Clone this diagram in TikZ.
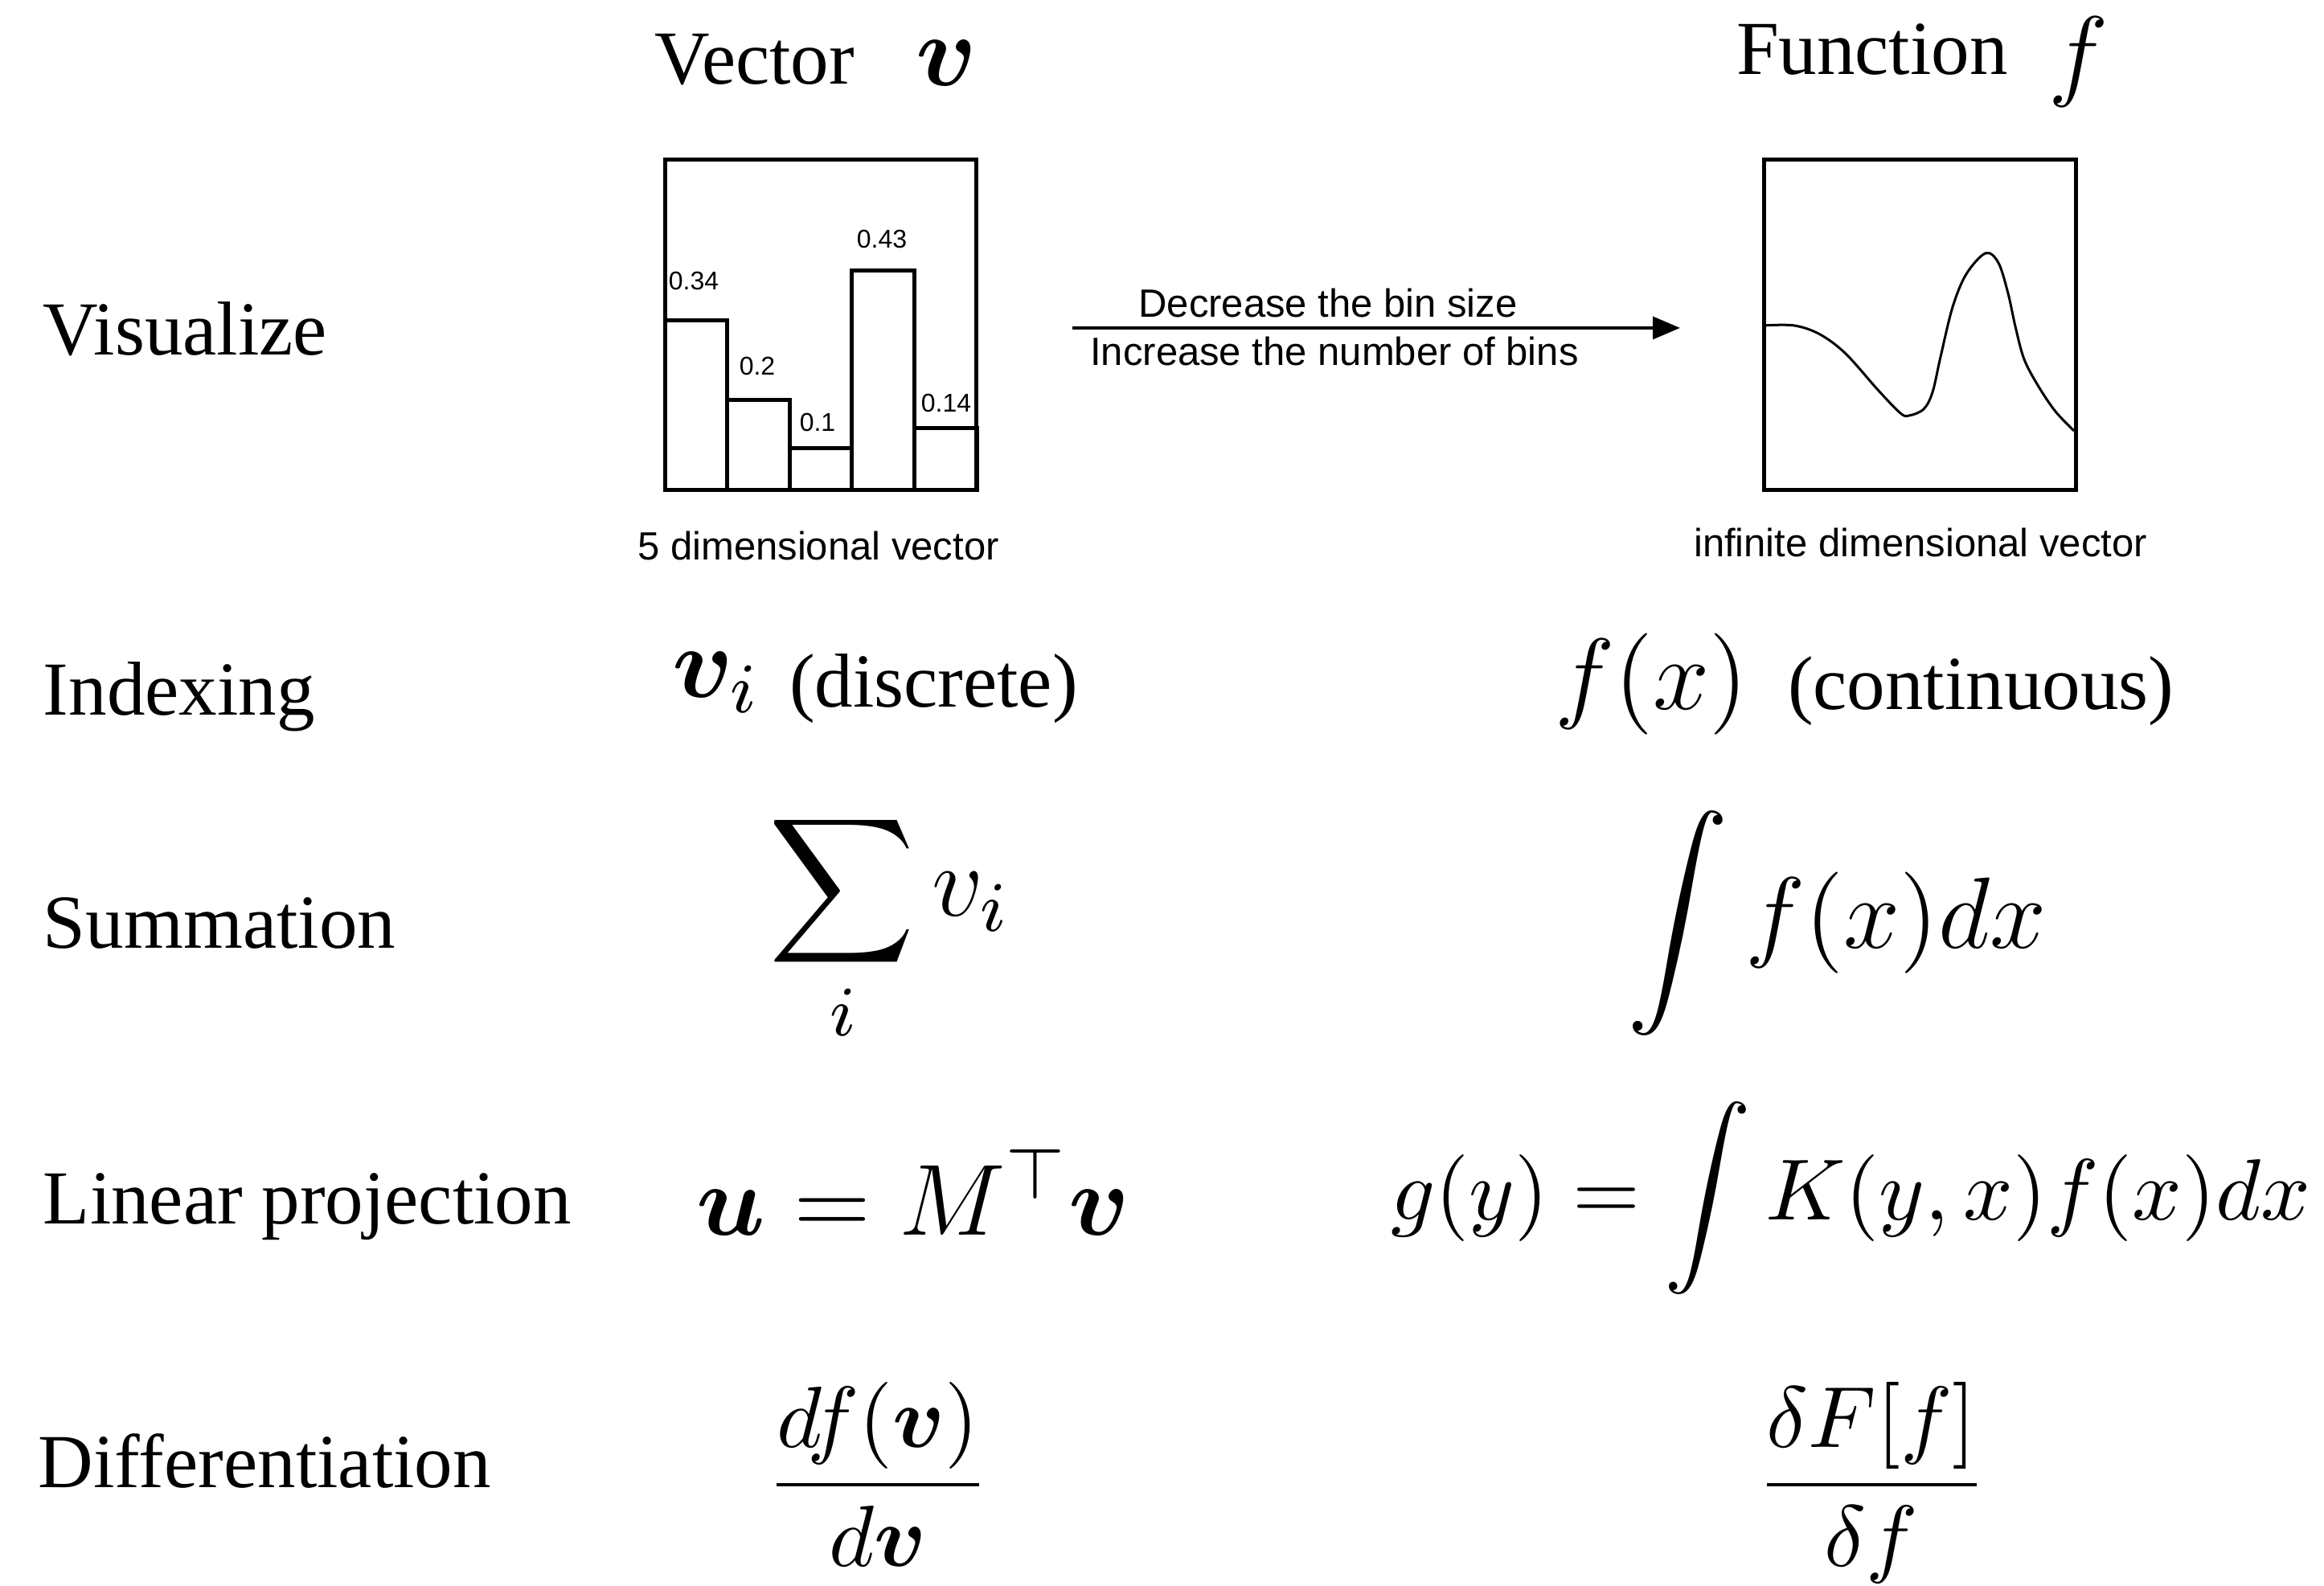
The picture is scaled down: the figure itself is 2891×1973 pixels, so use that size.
\RequirePackage{fix-cm}
\documentclass[tikz,border=0pt]{standalone}
\usepackage{amsmath,amssymb}
\usepackage{bm}
\usepackage{fontspec}
\setmainfont{Liberation Serif}
\setsansfont{Liberation Sans}
\usetikzlibrary{arrows.meta,positioning}

\begin{document}
\begin{tikzpicture}[
  x=0.1pt,y=-0.1pt,
  lbl/.style={anchor=base west,inner sep=0pt,font=\fontsize{9.5}{11}\selectfont},
  mth/.style={anchor=base west,inner sep=0pt,font=\fontsize{12.6}{15}\selectfont},
  captext/.style={inner sep=0pt,font=\sffamily\fontsize{4.9}{6}\selectfont},
  val/.style={inner sep=0pt,font=\sffamily\fontsize{3.2}{4}\selectfont},
  frame/.style={draw,line width=0.5pt,minimum width=38.8pt,minimum height=41.1pt,inner sep=0pt},
  bar/.style={draw,line width=0.5pt},
  flow/.style={-{Triangle[length=3.4pt,width=2.8pt]},line width=0.35pt}
]
\useasboundingbox (0,0) rectangle (2891,1973);

% row labels
\node[lbl] (visualize) at (52,442) {Visualize};
\node[lbl] (indexing) at (52,890) {Indexing};
\node[lbl] (summation) at (52,1180) {Summation};
\node[lbl] (linproj) at (52,1523) {Linear projection};
\node[lbl] (differ) at (46,1851) {Differentiation};

% column heads
\node[lbl] (vechead) at (813,105) {Vector};
\node[mth] (vecsym) at (1138,107) {$\bm{v}$};
\node[lbl] (funhead) at (2158,93) {Function};
\node[mth] (funsym) at (2546,109) {$f$};

% histogram
\node[frame] (hist) at (1021,404.5) {};
\draw[bar] (827,610) rectangle (904,399);
\draw[bar] (904,610) rectangle (982,498);
\draw[bar] (982,610) rectangle (1059,558);
\draw[bar] (1059,610) rectangle (1137,337);
\draw[bar] (1137,610) rectangle (1215,533);
\node[val] (val1) at (863,350) {0.34};
\node[val] (val2) at (942,456) {0.2};
\node[val] (val3) at (1017,526) {0.1};
\node[val] (val4) at (1097,298) {0.43};
\node[val] (val5) at (1177,502) {0.14};
\node[captext,anchor=base] (histcap) at (1018,697) {5 dimensional vector};

% arrow between the two pictures
\coordinate (arrfrom) at (1334,408);
\coordinate (arrto) at (2090,408);
\draw[flow] (arrfrom) -- (arrto);
\node[captext,anchor=base] (binsize) at (1652,395) {Decrease the bin size};
\node[captext,anchor=base] (binnum) at (1660,455) {Increase the number of bins};

% function curve
\node[frame] (curvebox) at (2388.5,404.5) {};
\draw[line width=0.3pt] plot[smooth,tension=0.55] coordinates {(2194,405) (2232,405) (2264,416) (2296,440) (2336,485) (2364,514) (2375,517) (2393,509) (2404,488) (2414,444) (2429,382) (2446,341) (2470,315) (2486,327) (2498,365) (2507,406) (2518,447) (2536,481) (2557,512) (2580,536)};
\node[captext,anchor=base] (curvecap) at (2389,693) {infinite dimensional vector};

% indexing
\node[mth] (vi) at (835,868) {$\bm{v}_i$};
\node[lbl] (disc) at (980,880) {(discrete)};
\node[mth] (fx) at (1932,883) {$f(x)$};
\node[lbl] (cont) at (2222,883) {(continuous)};

% summation
\node[mth] (sumv) at (955,1140) {$\displaystyle\sum_i v_i$};
\node[mth] (intf) at (2022,1180) {$\displaystyle\int f(x)dx$};

% linear projection
\node[mth] (proj) at (865,1537) {$\bm{u} = M^{\top}\bm{v}$};
\node[mth,font=\fontsize{10.8}{13}\selectfont] (kernel) at (1728,1518) {$g(y) = \displaystyle\int K(y,x)f(x)dx$};

% differentiation
\node[mth,anchor=base,font=\fontsize{10.8}{13}\selectfont] (dfdv) at (1092,1874) {$\displaystyle\frac{df(\bm{v})}{d\bm{v}}$};
\node[mth,anchor=base,font=\fontsize{10.8}{13}\selectfont] (dFdf) at (2328,1874) {$\displaystyle\frac{\delta F[f]}{\delta f}$};
\end{tikzpicture}
\end{document}
